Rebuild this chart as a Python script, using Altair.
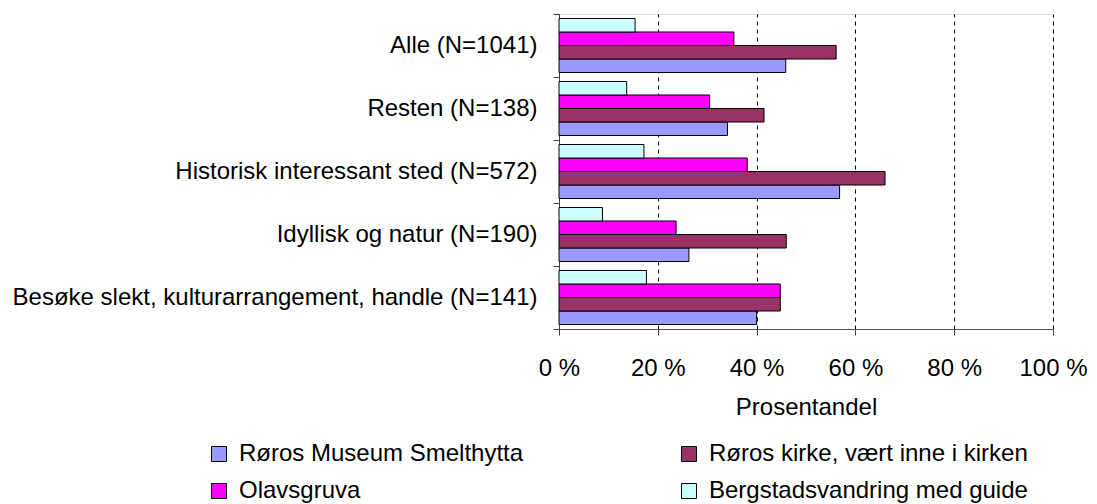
import altair as alt
import pandas as pd

categories = [
    "Alle (N=1041)",
    "Resten (N=138)",
    "Historisk interessant sted (N=572)",
    "Idyllisk og natur (N=190)",
    "Besøke slekt, kulturarrangement, handle (N=141)",
]
# legend order (column-major in the 2-column legend)
series = [
    "Røros Museum Smelthytta",
    "Olavsgruva",
    "Røros kirke, vært inne i kirken",
    "Bergstadsvandring med guide",
]
smelthytta = [45.9, 34.1, 56.8, 26.3, 40.0]
olavsgruva = [35.4, 30.5, 38.1, 23.7, 44.8]
kirke = [56.1, 41.5, 66.0, 46.0, 44.8]
bergstad = [15.4, 13.7, 17.2, 8.8, 17.7]
colors = ["#9999FF", "#FF00FF", "#993366", "#CCFFFF"]
x_ticks = [0, 20, 40, 60, 80, 100]

values_by_series = [smelthytta, olavsgruva, kirke, bergstad]
rows = []
for s, vals in zip(series, values_by_series):
    for c, v in zip(categories, vals):
        rows.append({"Kategori": c, "Serie": s, "Verdi": v})
df = pd.DataFrame(rows)

# bar order inside each band, top to bottom
offset_order = [series[3], series[1], series[2], series[0]]

FONT = "Liberation Sans"

chart = (
    alt.Chart(df)
    .mark_bar(stroke="black", strokeWidth=1, opacity=1)
    .encode(
        y=alt.Y(
            "Kategori:N",
            sort=categories,
            scale=alt.Scale(paddingInner=0, paddingOuter=0),
            axis=alt.Axis(
                title=None,
                labelFontSize=24,
                labelFont=FONT,
                labelColor="black",
                labelLimit=700,
                tickBand="extent",
                tickSize=6,
                labelPadding=16,
                domainColor="#404040",
                tickColor="#404040",
                grid=False,
            ),
        ),
        yOffset=alt.YOffset(
            "Serie:N",
            sort=offset_order,
            scale=alt.Scale(domain=offset_order, paddingInner=0, paddingOuter=0.333),
        ),
        x=alt.X(
            "Verdi:Q",
            scale=alt.Scale(domain=[0, 100], nice=False),
            axis=alt.Axis(
                values=x_ticks,
                labelExpr="datum.value + ' %'",
                title="Prosentandel",
                titleFontSize=24,
                titleFont=FONT,
                titleFontWeight="normal",
                titleColor="black",
                titlePadding=15,
                labelFontSize=24,
                labelFont=FONT,
                labelColor="black",
                labelFlush=False,
                labelOverlap=False,
                labelPadding=21,
                tickSize=6,
                domainColor="#555555",
                tickColor="#404040",
                grid=True,
                gridColor="black",
                gridDash=[4, 4],
                gridWidth=1,
            ),
        ),
        color=alt.Color(
            "Serie:N",
            scale=alt.Scale(domain=series, range=colors),
            legend=alt.Legend(
                title=None,
                orient="none",
                legendX=-352,
                legendY=428,
                columns=2,
                columnPadding=153,
                rowPadding=13,
                padding=0,
                symbolType="square",
                symbolSize=225,
                symbolStrokeColor="black",
                symbolStrokeWidth=1,
                symbolOpacity=1,
                labelFontSize=24,
                labelFont=FONT,
                labelColor="black",
                labelOffset=8,
                labelLimit=600,
            ),
        ),
    )
    .properties(
        width=494,
        height=315,
        autosize=alt.AutoSizeParams(type="none"),
        padding={"left": 551, "top": 6, "right": 36, "bottom": 175},
    )
    .configure_view(stroke=None)
    .configure(font=FONT)
)

chart.save("out.html", embed_options={"renderer": "svg", "actions": False})
